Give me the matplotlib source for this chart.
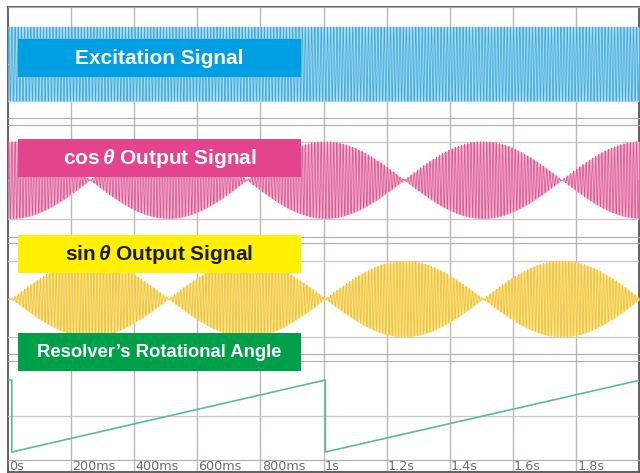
import numpy as np
import matplotlib
matplotlib.use("Agg")
import matplotlib.pyplot as plt
from matplotlib.patches import Rectangle
from matplotlib.transforms import blended_transform_factory

plt.rcParams["mathtext.fontset"] = "custom"
plt.rcParams["mathtext.rm"] = "Liberation Sans:bold"
plt.rcParams["mathtext.it"] = "Liberation Sans:italic:bold"

# ---------------- data ----------------
TICK_TIMES  = [0.0, 0.2, 0.4, 0.6, 0.8, 1.0, 1.2, 1.4, 1.6, 1.8]
TICK_LABELS = ["0s", "200ms", "400ms", "600ms", "800ms", "1s", "1.2s", "1.4s", "1.6s", "1.8s"]
ANGLE_T     = [0.0, 0.012, 0.012, 1.006, 1.006, 2.0]     # resolver angle sawtooth (s)
ANGLE_DEG   = [360, 360, 0, 360, 0, 358]                 # angle (deg)
CARRIER_HZ  = 100                                        # apparent excitation frequency
TITLES      = ["Excitation Signal", r"cos$\,\theta$ Output Signal",
               r"sin$\,\theta$ Output Signal", "Resolver\u2019s Rotational Angle"]
# ------------------------------------------------------------

W, H = 640, 473


def rect(x0, y0, x1, y1):
    return [x0 / W, 1 - y1 / H, (x1 - x0) / W, (y1 - y0) / H]


t = np.linspace(0, 2.0, 60000)
theta = np.deg2rad(np.interp(t, ANGLE_T, ANGLE_DEG))
carrier = np.sin(2 * np.pi * CARRIER_HZ * t)
env_cos = np.cos(theta)
env_sin = np.sin(theta)

fig = plt.figure(figsize=(W / 100, H / 100), dpi=100)

# background frame with vertical grid
bg = fig.add_axes(rect(8, 7, 639, 472))
bg.set_xlim(0, 2.0)
bg.set_ylim(0, 1)
bg.set_xticks([]); bg.set_yticks([])
for s in bg.spines.values():
    s.set_color("#555555"); s.set_linewidth(1.3)
for x in TICK_TIMES[1:]:
    bg.axvline(x, color="#bdb5b5", lw=1.0, zorder=0)
tr = blended_transform_factory(bg.transData, bg.transAxes)
for x, lab in zip(TICK_TIMES, TICK_LABELS):
    bg.text(x + 0.004, 0.011, lab, transform=tr, ha="left", va="center",
            fontsize=9.2, color="#6a6a6a", family="DejaVu Sans")

panels = [
    (rect(8, 7, 639, 118), (-1.46, 1.54), [-1, 0, 1]),
    (rect(8, 125, 639, 237), (-1.48, 1.43), [-1, 0, 1]),
    (rect(8, 243, 639, 354), (-1.45, 1.47), [-1, 0, 1]),
    (rect(8, 361, 639, 460), (-40, 455), [180]),
]
axes = []
for pos, yl, gl in panels:
    ax = fig.add_axes(pos)
    ax.set_facecolor("none")
    ax.set_xlim(0, 2.0); ax.set_ylim(*yl)
    ax.set_xticks([]); ax.set_yticks([])
    ax.spines["left"].set_visible(False); ax.spines["right"].set_visible(False)
    ax.spines["top"].set_color("#b3abab"); ax.spines["bottom"].set_color("#b3abab")
    for g in gl:
        ax.axhline(g, color="#cdc6c6", lw=0.9, zorder=0)
    axes.append(ax)

# excitation
axes[0].fill_between(t, -1, 1, color="#a9daf2", lw=0)
axes[0].plot(t, carrier, color="#3aaadd", lw=0.55)
# cos output
axes[1].fill_between(t, -np.abs(env_cos), np.abs(env_cos), color="#f3b3cf", lw=0)
axes[1].plot(t, env_cos * carrier, color="#dc5793", lw=0.55)
# sin output
axes[2].fill_between(t, -np.abs(env_sin), np.abs(env_sin), color="#f9e39a", lw=0)
axes[2].plot(t, env_sin * carrier, color="#f2c22a", lw=0.55)
# rotational angle
axes[3].plot(ANGLE_T, ANGLE_DEG, color="#5db99b", lw=1.2)

# label boxes
boxes = [(39, 77, "#009fe3", "white"), (139, 177, "#e4438d", "white"),
         (235, 273, "#fff100", "#1a1a1a"), (333, 371, "#00a04a", "white")]
sizes = [15, 15, 15, 13.3]
for (y0, y1, fc, tc), title, fs in zip(boxes, TITLES, sizes):
    fig.add_artist(Rectangle((18 / W, 1 - y1 / H), (301 - 18) / W, (y1 - y0) / H,
                             transform=fig.transFigure, color=fc, lw=0, zorder=2))
    fig.text(159.5 / W, 1 - (y0 + y1) / 2 / H, title, ha="center", va="center",
             fontsize=fs, fontweight="bold", color=tc, family="Liberation Sans", zorder=3)

fig.savefig("out.png", dpi=100)
